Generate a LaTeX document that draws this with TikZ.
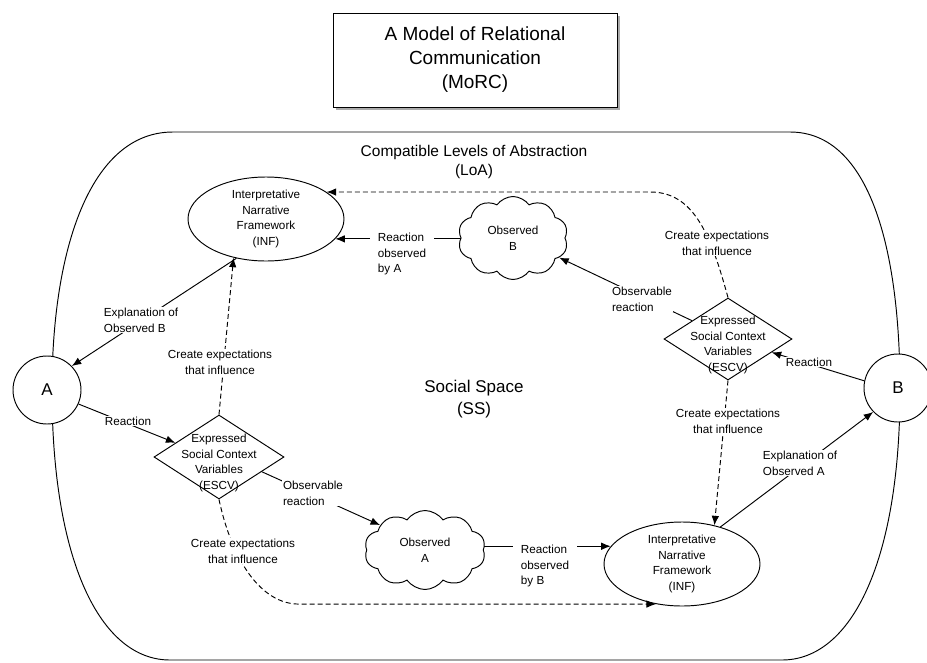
\documentclass[tikz,border=0pt]{standalone}
\usepackage{fontspec}
\setmainfont{Liberation Sans}
\usetikzlibrary{arrows.meta,shapes.geometric,shapes.symbols,shadows,calc}

\begin{document}
\begin{tikzpicture}[x=1pt,y=-1pt,
  every node/.style={inner sep=0pt},
  small/.style={font=\fontsize{11.7}{15.8}\selectfont},
  lbl/.style={small, align=center, fill=white, inner sep=1pt},
  lbll/.style={lbl, align=left},
  thin line/.style={line width=0.95pt},
  link/.style={thin line, -{Latex[length=9.5pt,width=7.5pt]}},
  infl/.style={link, dash pattern=on 5pt off 3pt},
  titlebox/.style={draw, thin line, fill=white, minimum width=284, minimum height=94,
    align=center, font=\fontsize{19}{24}\selectfont,
    drop shadow={shadow xshift=3pt, shadow yshift=-3pt, fill=black!60, opacity=0.55}},
  person/.style={circle, draw, thin line, fill=white, minimum size=68,
    font=\fontsize{17}{20}\selectfont},
  inf/.style={ellipse, draw, thin line, fill=white, minimum width=156,
    minimum height=84, small, align=center},
  obs/.style={cloud, draw, thin line, fill=white, cloud puffs=10,
    cloud puff arc=110, cloud ignores aspect, small, align=center},
  escv/.style={diamond, draw, thin line, fill=white},
  escvtext/.style={small, align=center}
]
\useasboundingbox (0,0) rectangle (927,662);

% social space boundary
\draw[thin line] (173,132) -- (790,132)
  .. controls (870,132) and (900,250) .. (900,390)
  .. controls (900,560) and (852,660) .. (782,660)
  -- (170,660)
  .. controls (100,660) and (52,560) .. (52,390)
  .. controls (52,250) and (90,132) .. cycle;

% headings
\node[titlebox] (title) at (475,60) {A Model of Relational\\Communication\\(MoRC)};
\node[align=center, font=\fontsize{15.5}{19}\selectfont] (loa) at (474,162)
  {Compatible Levels of Abstraction\\(LoA)};
\node[align=center, font=\fontsize{17}{22}\selectfont] (ss) at (474,399)
  {Social Space\\(SS)};

% participants
\node[person] (A) at (47,390) {A};
\node[person] (B) at (898,388) {B};

% interpretative frameworks
\node[inf] (infA) at (266,219) {Interpretative\\Narrative\\Framework\\(INF)};
\node[inf] (infB) at (682,564) {Interpretative\\Narrative\\Framework\\(INF)};

% observed reactions
\node[obs, minimum width=110, minimum height=83] (obsB) at (513,238) {Observed\\B};
\node[obs, minimum width=121, minimum height=79] (obsA) at (425,550) {Observed\\A};

% expressed social context variables
\node[escv, minimum width=130, minimum height=84] (escvA) at (219,457) {};
\node[escvtext] (escvAtext) at (219,463) {Expressed\\Social Context\\Variables\\(ESCV)};
\node[escv, minimum width=128, minimum height=82] (escvB) at (728,339) {};
\node[escvtext] (escvBtext) at (728,345) {Expressed\\Social Context\\Variables\\(ESCV)};

% reaction cycle
\draw[link] (infA.233) -- (A.44);
\draw[link] (A.336) -- (escvA.162);
\draw[link] (escvA.341) -- (obsA.151);
\draw[link] (infB.166 -| obsA.east) -- (infB.166);
\draw[link] (infB.44) -- (B.224);
\draw[link] (B.168) -- (escvB.343);
\draw[link] (escvB.153) -- (obsB.337);
\draw[link] (infA.344 -| obsB.west) -- (infA.344);

% expectations
\draw[infl] (escvA.north) -- (infA.230);
\draw[infl] (escvA.south) .. controls ($(escvA.south)+(13,61)$)
  and ($(infB.237)+(-395,0)$) .. ($(infB.237)+(-357,0)$) -- (infB.237);
\draw[infl] (escvB.north) .. controls ($(escvB.north)+(-16,-58)$)
  and ($(infA.24)+(369,0)$) .. ($(infA.24)+(324,0)$) -- (infA.24);
\draw[infl] (escvB.south) -- (infB.50);

% connector labels
\node[lbll] (l1) at (141,320) {Explanation of\\Observed B};
\node[lbl]  (l2) at (128,421) {Reaction};
\node[lbll] (l3) at (313,493) {Observable\\reaction};
\node[lbll, inner xsep=8pt] (l4) at (545,566) {Reaction\\observed\\by B};
\node[lbll] (l5) at (800,463) {Explanation of\\Observed A};
\node[lbl]  (l6) at (809,362) {Reaction};
\node[lbll] (l7) at (642,299) {Observable\\reaction};
\node[lbll, inner xsep=8pt] (l8) at (402,254) {Reaction\\observed\\by A};
\node[lbl]  (e1) at (220,362) {Create expectations\\that influence};
\node[lbl]  (e2) at (243,551) {Create expectations\\that influence};
\node[lbl]  (e3) at (717,243) {Create expectations\\that influence};
\node[lbl]  (e4) at (728,421) {Create expectations\\that influence};
\end{tikzpicture}
\end{document}
